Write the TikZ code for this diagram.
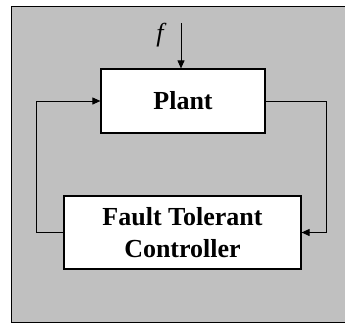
\documentclass[tikz,border=0pt]{standalone}
\usepackage{fontspec}
\setmainfont{Liberation Serif}
\usetikzlibrary{arrows.meta}
\definecolor{panelgray}{RGB}{192,192,192}
\begin{document}
\begin{tikzpicture}[x=1pt,y=-1pt,every node/.style={font=\fontsize{26}{32}\selectfont\bfseries},
  blockbox/.style={draw,line width=1.2pt,fill=white,align=center,inner sep=0pt},
  sig/.style={line width=1pt,-{Triangle[length=8pt,width=7pt]}}]
  \useasboundingbox (0,0) rectangle (345,324);
  \draw[line width=1pt,fill=panelgray] (11.5,6.5) rectangle (347,322.5);
  % blocks
  \node[blockbox,minimum width=164,minimum height=64] (plant) at (183,101) {Plant};
  \node[blockbox,minimum width=237,minimum height=73] (ftc) at (182.5,232.5) {Fault Tolerant\\Controller};
  % fault input
  \coordinate (fin) at (181,23);
  \draw[sig] (fin) -- (fin |- plant.north);
  \node[font=\fontsize{26}{32}\selectfont\itshape] (flabel) at (160,35) {f};
  % feedback loop
  \coordinate (lft) at (36.7,0);
  \coordinate (rgt) at (326.7,0);
  \draw[sig] (ftc.west) -| (lft |- plant.west) -- (plant.west);
  \draw[sig] (plant.east) -| (rgt |- ftc.east) -- (ftc.east);
\end{tikzpicture}
\end{document}
